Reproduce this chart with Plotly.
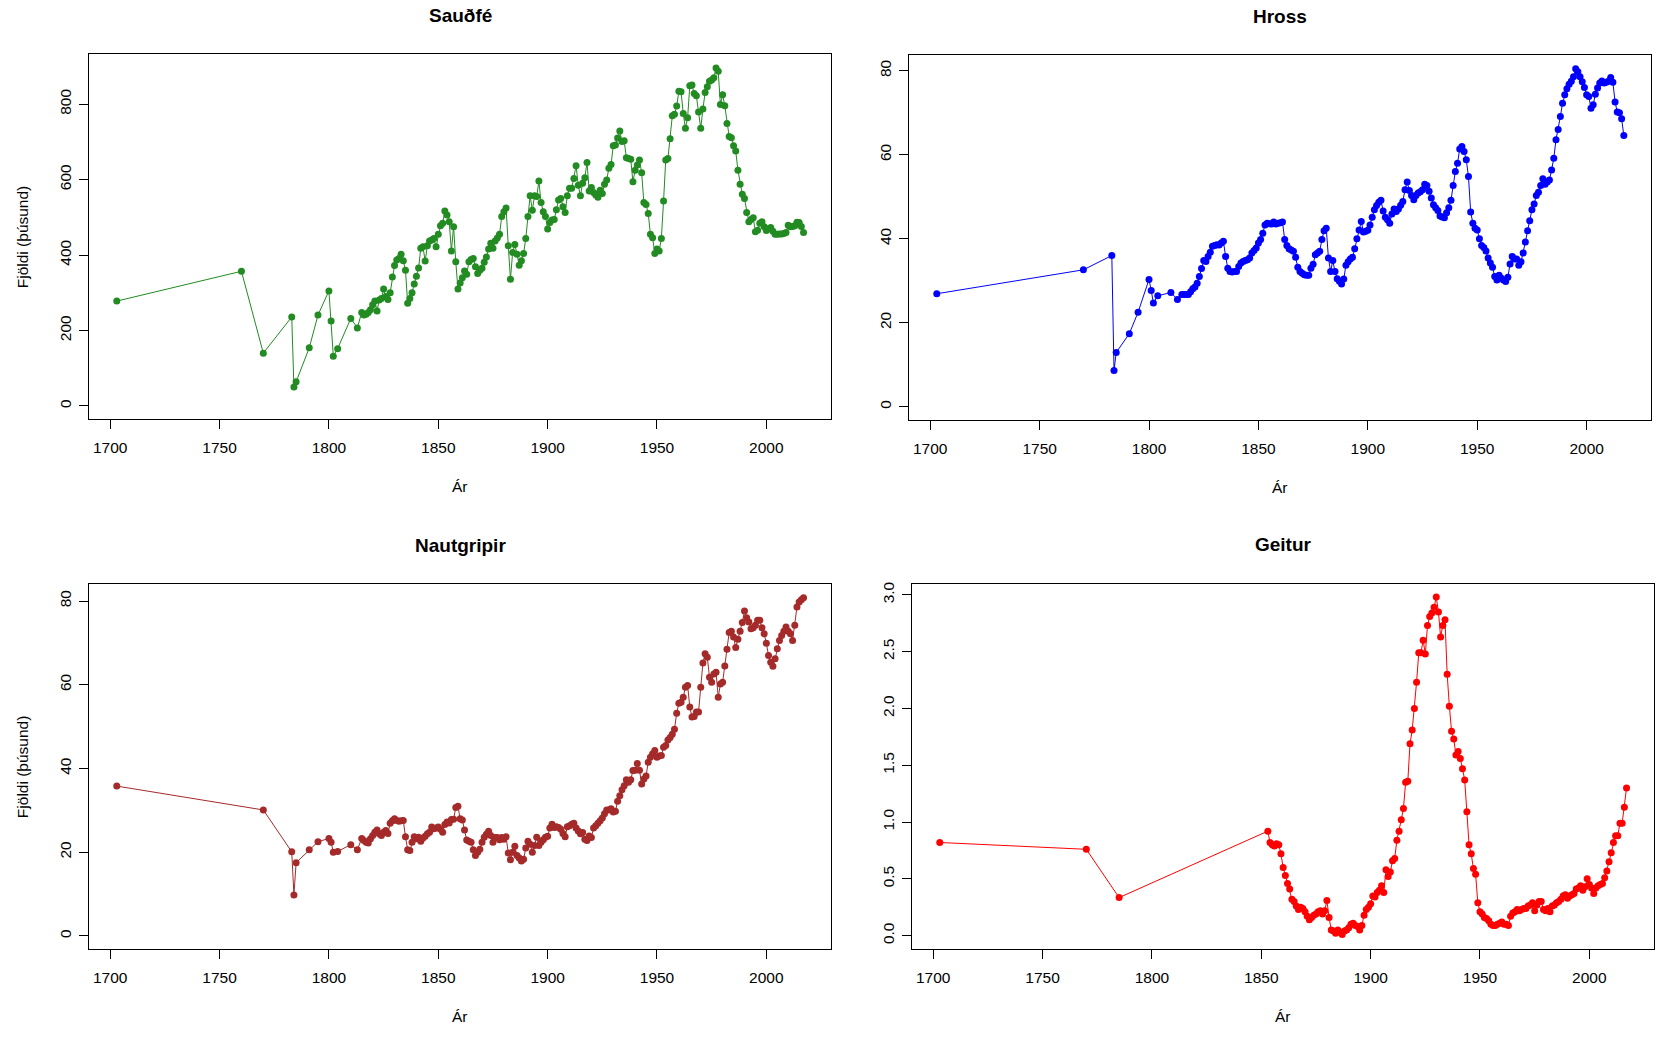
import plotly.graph_objects as go

# ---------------- DATA ----------------
sheep_early_years = [1703, 1760, 1770, 1783, 1784, 1785, 1791, 1795, 1800, 1801, 1802, 1804, 1810, 1813]
sheep_early = [278, 357, 140, 236, 50, 64, 154, 241, 305, 225, 132, 152, 232, 207]
sheep_annual = [
    248, 241, 243, 248, 255,
    268, 278, 252, 281, 285, 310, 290, 282, 300, 342,
    372, 387, 391, 402, 385, 360, 272, 285, 300, 323,
    344, 366, 418, 422, 384, 425, 437, 440, 444, 422,
    455, 478, 484, 517, 506, 488, 411, 475, 382, 310,
    326, 340, 358, 349, 382, 388, 391, 369, 351, 360,
    365, 381, 395, 416, 431, 418, 437, 445, 455, 502,
    515, 525, 425, 336, 407, 428, 402, 373, 385, 404,
    444, 502, 557, 519, 557, 555, 596, 539, 515, 502,
    469, 486, 493, 494, 520, 546, 550, 528, 513, 557,
    577, 577, 603, 637, 585, 557, 590, 605, 645, 570,
    579, 566, 559, 553, 572, 563, 588, 599, 630, 640,
    690, 692, 710, 729, 701, 703, 658, 656, 654, 594,
    625, 639, 652, 618, 539, 534, 510, 455, 446, 404,
    416, 411, 444, 543, 652, 656, 708, 769, 773, 795,
    834, 833, 775, 736, 764, 849, 851, 828, 822, 779,
    736, 787, 831, 846, 861, 864, 870, 896, 887, 799,
    825, 796, 749, 714, 711, 690, 676, 625, 588, 561,
    550, 513, 488, 494, 499, 462, 466, 484, 488, 475,
    465, 470, 473, 463, 455, 455, 456, 456, 457, 460,
    479, 475, 476, 478, 487, 486, 476, 460]

horse_early_years = [1703, 1770, 1783, 1784, 1785, 1791, 1795, 1800, 1801, 1802, 1804, 1810, 1813]
horse_early = [26.9, 32.6, 36.0, 8.6, 12.9, 17.4, 22.5, 30.3, 27.7, 24.7, 26.4, 27.2, 25.5]
horse_annual = [
    26.7, 26.7, 26.7, 26.7, 27.4,
    28.1, 28.5, 29.4, 31.0, 32.9, 34.8, 34.6, 35.8, 36.8, 38.2,
    38.4, 38.6, 38.5, 39.0, 39.4, 35.8, 33.0, 32.2, 32.1, 32.2,
    32.2, 33.4, 34.2, 34.6, 34.8, 35.0, 35.4, 36.6, 37.2, 37.8,
    39.0, 39.8, 41.3, 43.3, 43.7, 43.6, 43.5, 44.0, 43.5, 43.7,
    43.8, 44.0, 39.8, 38.4, 37.6, 37.3, 37.0, 35.6, 33.2, 32.2,
    31.8, 31.4, 31.3, 31.3, 33.0, 33.9, 36.2, 36.6, 37.0, 39.8,
    41.9, 42.5, 35.4, 32.2, 34.8, 32.2, 30.5, 29.9, 29.2, 30.4,
    33.7, 34.5, 35.2, 35.6, 37.6, 40.0, 42.1, 44.1, 41.6, 41.8,
    42.0, 43.3, 45.1, 46.9, 47.9, 48.7, 49.2, 46.6, 45.1, 44.5,
    43.7, 45.9, 47.1, 46.5, 47.1, 48.0, 48.9, 51.7, 53.5, 51.5,
    50.3, 49.3, 50.3, 50.9, 51.2, 51.7, 53.0, 52.7, 51.3, 49.7,
    48.1, 47.4, 46.7, 45.4, 45.2, 45.0, 46.2, 47.4, 49.2, 52.7,
    56.0, 58.0, 61.4, 62.0, 60.8, 58.8, 54.8, 46.4, 43.7, 42.5,
    42.1, 40.0, 38.4, 37.9, 37.1, 35.4, 34.2, 33.2, 31.0, 30.2,
    31.3, 30.6, 30.2, 29.8, 30.8, 34.0, 35.8, 35.2, 35.2, 33.7,
    34.5, 36.6, 39.2, 41.9, 44.3, 46.9, 48.3, 50.3, 51.1, 52.7,
    54.3, 53.0, 53.5, 54.0, 56.4, 59.2, 63.6, 66.0, 69.1, 72.3,
    74.3, 75.7, 76.8, 77.5, 78.6, 80.5, 79.8, 78.6, 77.4, 76.0,
    74.3, 73.9, 71.1, 71.9, 74.4, 75.9, 77.1, 77.6, 77.1, 77.3,
    77.5, 78.4, 77.3, 72.6, 70.2, 70.0, 68.6, 64.6]

cattle_early_years = [1703, 1770, 1783, 1784, 1785, 1791, 1795, 1800, 1801, 1802, 1804, 1810, 1813]
cattle_early = [35.8, 30.1, 20.1, 9.8, 17.5, 20.6, 22.5, 23.3, 22.4, 20.0, 20.2, 21.8, 20.6]
cattle_annual = [
    23.3, 22.8, 22.4, 22.2, 23.2,
    24.0, 24.8, 25.3, 24.4, 24.0, 24.8, 25.2, 24.5, 26.9, 27.5,
    28.0, 27.6, 27.4, 27.5, 27.6, 23.7, 20.6, 20.4, 22.4, 23.7,
    23.2, 23.6, 22.6, 23.4, 23.8, 24.4, 24.8, 26.0, 25.6, 25.8,
    26.0, 25.5, 24.8, 26.6, 27.2, 27.0, 27.8, 27.9, 30.7, 31.0,
    28.0, 27.7, 25.3, 22.9, 22.6, 22.4, 20.6, 19.2, 20.0, 20.7,
    22.4, 23.6, 24.3, 25.0, 24.0, 22.4, 23.5, 23.5, 23.0, 23.5,
    23.1, 23.7, 19.8, 18.2, 20.0, 21.4, 19.2, 18.6, 17.9, 18.3,
    21.0, 22.6, 21.9, 20.0, 21.6, 23.6, 21.6, 22.4, 23.0, 23.6,
    23.8, 25.8, 26.7, 25.9, 26.1, 25.9, 25.5, 24.5, 23.7, 26.1,
    26.3, 26.7, 26.9, 25.8, 25.1, 24.4, 24.7, 23.1, 22.8, 23.9,
    23.5, 25.8, 26.3, 26.9, 27.5, 28.2, 29.2, 30.1, 30.1, 30.4,
    29.6, 29.8, 32.2, 33.5, 34.9, 35.9, 37.3, 36.7, 37.3, 39.5,
    39.6, 41.2, 39.6, 36.3, 37.5, 38.2, 41.5, 42.7, 43.5, 44.3,
    42.7, 43.0, 43.1, 45.1, 45.5, 46.8, 47.4, 48.2, 49.4, 53.2,
    55.6, 55.8, 57.0, 59.4, 59.8, 54.7, 52.3, 52.4, 53.5, 53.5,
    59.4, 65.2, 67.4, 66.6, 61.8, 60.6, 62.6, 63.0, 57.0, 60.2,
    60.6, 64.5, 68.5, 72.5, 72.8, 71.4, 68.9, 70.9, 72.8, 74.9,
    77.6, 76.0, 75.0, 73.4, 73.6, 74.2, 75.4, 75.4, 73.6, 72.2,
    69.9, 67.0, 65.4, 64.4, 66.2, 68.6, 70.6, 71.8, 72.8, 73.8,
    72.8, 72.2, 70.6, 74.2, 78.6, 79.8, 80.3, 80.8]

goat_early_years = [1703, 1770, 1785]
goat_early = [0.82, 0.76, 0.335]
goat_annual = [
    0.92, 0.82, 0.80, 0.79, 0.81, 0.80, 0.72,
    0.60, 0.53, 0.46, 0.41, 0.32, 0.30, 0.26, 0.23, 0.25, 0.24,
    0.21, 0.17, 0.14, 0.16, 0.18, 0.19, 0.21, 0.22, 0.19, 0.22,
    0.31, 0.16, 0.05, 0.04, 0.02, 0.05, 0.03, 0.01, 0.04, 0.05,
    0.07, 0.10, 0.11, 0.09, 0.08, 0.05, 0.09, 0.18, 0.23, 0.25,
    0.28, 0.35, 0.34, 0.38, 0.40, 0.44, 0.38, 0.58, 0.52, 0.56,
    0.66, 0.68, 0.84, 0.92, 1.02, 1.12, 1.35, 1.36, 1.69, 1.81,
    2.00, 2.23, 2.49, 2.49, 2.60, 2.48, 2.73, 2.81, 2.84, 2.89,
    2.98, 2.85, 2.63, 2.73, 2.78, 2.30, 2.02, 1.80, 1.73, 1.59,
    1.62, 1.56, 1.47, 1.37, 1.09, 0.80, 0.72, 0.59, 0.54, 0.29,
    0.21, 0.19, 0.16, 0.15, 0.13, 0.10, 0.09, 0.09, 0.10, 0.11,
    0.12, 0.10, 0.10, 0.09, 0.17, 0.20, 0.21, 0.23, 0.22, 0.23,
    0.24, 0.24, 0.26, 0.27, 0.29, 0.22, 0.27, 0.30, 0.30, 0.23,
    0.22, 0.24, 0.21, 0.26, 0.27, 0.29, 0.30, 0.32, 0.35, 0.36,
    0.33, 0.35, 0.36, 0.37, 0.41, 0.42, 0.44, 0.40, 0.43, 0.50,
    0.45, 0.42, 0.37, 0.42, 0.44, 0.45, 0.46, 0.51, 0.57, 0.65,
    0.73, 0.82, 0.88, 0.88, 0.99, 0.99, 1.13, 1.30]

titles = ["Sauðfé", "Hross", "Nautgripir", "Geitur"]
colors = ["#228B22", "#0000FF", "#A52A2A", "#FF0000"]
x_label = "Ár"
y_label = "Fjöldi (þúsund)"
x_ticks = [1700, 1750, 1800, 1850, 1900, 1950, 2000]
y_ticks = [
    [0, 200, 400, 600, 800],
    [0, 20, 40, 60, 80],
    [0, 20, 40, 60, 80],
    [0, 0.5, 1.0, 1.5, 2.0, 2.5, 3.0],
]

series = [
    (sheep_early_years + list(range(1815, 2018)), sheep_early + sheep_annual),
    (horse_early_years + list(range(1815, 2018)), horse_early + horse_annual),
    (cattle_early_years + list(range(1815, 2018)), cattle_early + cattle_annual),
    (goat_early_years + list(range(1853, 2018)), goat_early + goat_annual),
]
for yrs, vals in series:
    assert len(yrs) == len(vals), (len(yrs), len(vals))

# ---------------- LAYOUT (pixel boxes) ----------------
W, H = 1674, 1045
boxes = [  # left, right, top, bottom in px
    (89.3, 831.0, 52.5, 418.3),
    (909.3, 1651.3, 53.3, 419.0),
    (89.3, 831.0, 583.3, 949.3),
    (912.3, 1654.0, 582.7, 949.0),
]
FONT = "Liberation Sans, Arial, Helvetica, sans-serif"

fig = go.Figure()
layout = dict(
    width=W, height=H, autosize=False,
    margin=dict(l=0, r=0, t=0, b=0, pad=0),
    paper_bgcolor="white", plot_bgcolor="white",
    showlegend=False,
    font=dict(family=FONT, size=15.5, color="black"),
)
annotations = []

def r_range(lo, hi):
    d = hi - lo
    return [lo - 0.04 * d, hi + 0.04 * d]

for i, ((yrs, vals), (l, r, t, b)) in enumerate(zip(series, boxes)):
    n = i + 1
    xa = "x" if n == 1 else f"x{n}"
    ya = "y" if n == 1 else f"y{n}"
    fig.add_trace(go.Scatter(
        x=yrs, y=vals, mode="lines+markers",
        line=dict(color=colors[i], width=1),
        marker=dict(color=colors[i], size=7, line=dict(width=0)),
        xaxis=xa, yaxis=ya, hoverinfo="x+y",
    ))
    common = dict(
        showgrid=False, zeroline=False, showline=True, mirror=True,
        linecolor="black", linewidth=1, ticks="outside", ticklen=9,
        tickwidth=1, tickcolor="black",
        tickfont=dict(family=FONT, size=15.5, color="black"),
    )
    layout[f"xaxis{'' if n == 1 else n}"] = dict(
        domain=[l / W, r / W], anchor=ya,
        range=r_range(min(yrs), max(yrs)),
        tickvals=x_ticks, ticklabelstandoff=5, **common,
    )
    ymax = max(vals)
    layout[f"yaxis{'' if n == 1 else n}"] = dict(
        domain=[1 - b / H, 1 - t / H], anchor=xa,
        range=r_range(0, ymax),
        tickvals=y_ticks[i], tickangle=-90, ticklabelstandoff=2,
        tickformat=".1f" if i == 3 else "d", **common,
    )
    cx = (l + r) / 2
    # title
    annotations.append(dict(
        text=f"<b>{titles[i]}</b>", x=cx / W, y=1 - (t - 39) / H,
        xref="paper", yref="paper", showarrow=False,
        xanchor="center", yanchor="middle",
        font=dict(family=FONT, size=19, color="black"),
    ))
    # x label
    annotations.append(dict(
        text=x_label, x=cx / W, y=1 - (b + 67) / H,
        xref="paper", yref="paper", showarrow=False,
        xanchor="center", yanchor="middle",
        font=dict(family=FONT, size=15.5, color="black"),
    ))
    if i in (0, 2):
        annotations.append(dict(
            text=y_label, x=(l - 66) / W, y=1 - ((t + b) / 2) / H,
            xref="paper", yref="paper", showarrow=False, textangle=-90,
            xanchor="center", yanchor="middle",
            font=dict(family=FONT, size=15.5, color="black"),
        ))

layout["annotations"] = annotations
fig.update_layout(**layout)

fig.write_html("out.html", config={"displayModeBar": False},
               post_script="document.body.style.margin='0';")
